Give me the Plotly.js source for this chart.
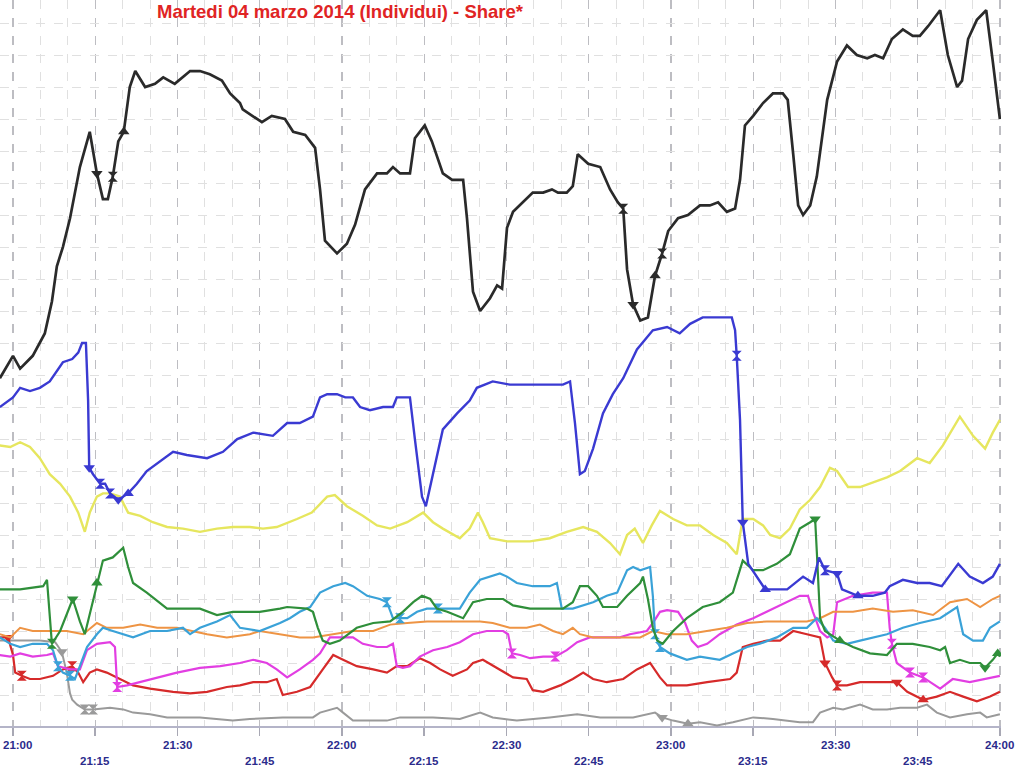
<!DOCTYPE html>
<html><head><meta charset="utf-8">
<script src="https://cdn.plot.ly/plotly-3.0.1.min.js"></script>
<style>html,body{margin:0;padding:0;background:#fff}#chart{width:1024px;height:776px}</style>
</head><body><div id="chart"></div>
<script>
const chartTitle = "Martedi 04 marzo 2014 (Individui) - Share*";
const tickMinutes = [0,15,30,45,60,75,90,105,120,135,150,165,180];
const tickLabels = ["21:00","21:15","21:30","21:45","22:00","22:15","22:30","22:45","23:00","23:15","23:30","23:45","24:00"];

// minutes after 21:00, share values
const blackT = [-2.4,0,1.3,3.6,5.8,7.1,8.0,9.1,10.4,12.2,14.0,15.3,16.4,17.3,18.2,19.2,20.2,21.3,22.3,24.1,25.9,27.4,29.5,32.3,34.1,35.9,38.1,39.6,41.4,41.9,45.4,47.2,49.6,51.1,53.3,55.1,56.0,56.9,59.1,60.9,62.4,64.2,66.4,68.2,69.3,70.6,72.4,73.3,75.1,76.4,78.4,80.1,82.1,82.8,83.9,85.2,87.0,88.3,89.2,90.1,91.2,93.0,94.8,96.7,98.3,99.4,101.0,102.1,103.0,104.9,107.1,108.9,110.3,111.3,112.0,113.1,114.4,115.8,117.1,118.4,119.5,121.3,123.1,125.3,127.1,128.6,130.2,131.7,132.6,133.5,135.0,136.8,138.6,140.4,141.3,142.3,143.2,144.1,145.4,146.6,148.5,150.3,152.1,153.9,155.8,157.2,158.7,160.3,162.3,164.1,165.4,166.9,169.1,170.5,172.2,173.1,174.2,175.8,177.5,178.7,180];
const blackV = [10.9,11.6,11.2,11.6,12.3,13.3,14.4,15.0,15.9,17.5,18.6,17.3,16.5,16.5,17.2,18.3,18.6,20.0,20.5,20.0,20.1,20.3,20.1,20.5,20.5,20.4,20.2,19.8,19.5,19.3,18.9,19.1,19.0,18.6,18.5,18.1,16.8,15.2,14.8,15.1,15.7,16.8,17.3,17.3,17.5,17.3,17.3,18.4,18.8,18.3,17.3,17.1,17.1,15.9,13.6,13.0,13.4,13.8,13.7,15.6,16.1,16.4,16.7,16.7,16.8,16.7,16.7,16.9,17.9,17.6,17.5,16.8,16.4,16.2,14.3,13.2,12.7,12.8,14.1,14.8,15.5,15.9,16.0,16.3,16.3,16.4,16.1,16.2,17.1,18.8,19.1,19.5,19.8,19.8,19.6,17.9,16.3,16.0,16.3,17.2,19.6,20.8,21.3,21.0,20.9,21.0,20.9,21.5,21.8,21.6,21.6,21.9,22.4,21.0,20.0,20.2,21.5,22.1,22.4,20.8,19.0];

const blueT = [-2.4,0,1.3,3.1,4.9,6.7,9.1,10.8,11.9,12.6,13.3,13.7,13.9,14.6,15.9,16.8,17.7,19.2,21.0,22.6,24.4,26.8,29.2,31.7,35.4,38.3,40.9,43.8,47.4,50.0,52.3,54.7,56.0,57.3,59.1,60.6,62.0,63.3,65.1,67.5,69.3,70.0,72.4,73.3,74.6,75.3,76.6,78.4,81.0,83.3,84.6,87.5,90.6,96.1,100.3,101.6,102.5,103.4,104.3,105.8,107.6,109.4,111.3,113.8,116.7,119.3,121.6,123.5,125.8,128.9,131.1,131.7,132.0,132.6,133.1,134.1,135.7,137.2,139.3,141.2,144.1,145.9,147.0,148.1,150.3,151.2,154.1,156.8,159.0,159.9,162.3,164.9,167.2,169.4,172.4,174.5,176.9,178.7,180];
const blueV = [10.0,10.3,10.6,10.5,10.6,10.8,11.4,11.5,11.7,12.0,12.0,10.2,8.1,7.9,7.6,7.6,7.3,7.1,7.3,7.6,8.0,8.3,8.6,8.5,8.4,8.6,9.0,9.2,9.1,9.5,9.5,9.7,10.3,10.4,10.4,10.3,10.3,10.0,9.9,10.0,10.0,10.3,10.3,9.0,7.2,6.9,7.9,9.3,9.8,10.2,10.6,10.8,10.7,10.7,10.7,10.8,9.5,7.9,8.0,8.7,9.8,10.4,10.9,11.8,12.4,12.5,12.3,12.6,12.8,12.8,12.8,12.4,11.6,9.6,6.4,5.1,4.7,4.3,4.3,4.3,4.7,4.5,5.3,4.9,4.8,4.3,4.1,4.1,4.2,4.4,4.6,4.5,4.5,4.4,5.1,4.7,4.5,4.7,5.1];

const yellowT = [-2.4,-0.5,1.3,3.1,4.9,6.7,8.6,10.4,11.9,13.1,14.0,15.3,16.4,17.7,19.5,21.0,23.2,25.5,28.1,31.0,34.1,37.2,40.1,43.2,45.6,48.1,51.8,54.5,57.3,58.7,60.9,63.8,66.4,68.8,71.9,74.8,76.6,78.4,81.5,83.3,84.8,85.7,87.0,90.1,94.3,97.9,101.0,104.0,106.5,108.9,110.7,112.0,113.4,114.9,116.5,118.0,120.4,122.9,125.3,127.7,130.2,132.0,133.1,135.0,136.8,138.1,139.9,141.7,143.5,145.4,147.2,149.0,150.3,152.3,154.5,156.8,159.4,161.8,164.9,167.2,169.6,172.7,175.1,177.3,178.7,180];
const yellowV = [8.8,8.75,8.9,8.75,8.4,7.9,7.6,7.2,6.7,6.1,6.7,7.2,7.3,7.3,7.2,6.7,6.6,6.4,6.25,6.2,6.1,6.2,6.25,6.25,6.2,6.25,6.5,6.7,7.2,7.25,6.9,6.6,6.3,6.2,6.4,6.7,6.4,6.2,5.9,6.2,6.7,6.4,5.9,5.8,5.8,5.9,6.1,6.25,6.1,5.75,5.4,6.0,6.2,5.75,6.3,6.75,6.5,6.3,6.3,6.0,5.75,5.4,6.5,6.5,6.3,6.0,5.9,6.2,6.8,7.1,7.5,8.1,8.0,7.5,7.5,7.65,7.8,8.0,8.4,8.25,8.8,9.7,9.1,8.7,9.2,9.6];

const greenT = [-2.4,1.3,5.5,6.2,7.1,8.6,10.9,12.2,13.1,15.3,16.4,18.2,20.1,21.0,21.9,24.4,28.1,30.5,34.1,37.2,40.1,43.2,45.0,48.7,50.0,53.6,54.7,55.6,56.5,57.8,59.6,62.7,65.7,68.8,71.1,73.0,74.6,76.1,77.3,79.2,82.1,83.9,86.4,89.4,91.2,94.3,97.9,100.3,102.1,103.4,104.9,106.5,107.6,110.2,112.0,114.4,114.9,115.8,116.7,117.5,118.5,120.4,122.9,125.8,128.9,131.3,133.1,135.0,136.8,139.3,141.7,143.5,145.4,146.3,146.6,147.2,148.1,150.8,153.2,156.3,159.4,161.2,164.1,167.2,169.1,170.0,170.9,172.7,174.5,176.4,177.3,178.7,179.6,180];
const greenV = [4.3,4.3,4.4,4.6,2.6,3.0,4.0,3.3,2.9,4.5,5.2,5.3,5.6,5.0,4.5,4.2,3.7,3.7,3.7,3.5,3.6,3.6,3.6,3.7,3.75,3.7,3.6,3.1,2.7,2.6,2.7,3.1,3.25,3.3,3.6,3.9,4.1,4.0,3.7,3.6,3.4,3.9,4.0,4.0,3.8,3.7,3.7,3.7,3.9,4.4,4.4,4.1,3.75,3.75,4.1,4.5,4.7,4.0,3.1,2.7,2.6,3.0,3.4,3.75,3.9,4.2,5.2,4.9,4.9,5.1,5.4,6.2,6.4,6.5,5.5,3.4,3.0,2.7,2.5,2.3,2.25,2.6,2.6,2.5,2.4,2.5,2.0,2.1,2.0,2.0,1.85,2.1,2.3,2.2];

const cyanT = [-2.4,-0.5,1.3,3.6,6.2,7.3,8.2,9.1,10.4,11.3,12.2,13.5,15.3,16.4,18.2,20.1,21.9,25.0,28.1,31.0,32.3,34.1,37.2,39.6,41.4,45.0,48.7,50.5,52.3,54.2,56.0,58.4,60.6,62.0,64.6,66.9,68.2,69.3,70.6,71.9,73.7,75.5,77.5,79.7,81.5,83.3,85.2,88.8,90.1,91.9,94.8,97.9,99.2,100.1,102.1,105.8,108.3,110.2,112.0,113.1,114.4,116.2,116.7,117.1,118.0,119.8,122.9,125.3,128.9,131.3,133.9,136.2,139.3,142.3,144.8,146.6,148.1,149.6,152.1,154.5,156.8,159.4,162.3,165.4,169.1,172.2,173.3,175.1,176.9,178.2,180];
const cyanV = [2.8,2.6,2.5,2.6,2.6,2.4,1.9,1.7,1.6,1.5,1.9,2.5,2.9,3.1,3.0,2.9,2.8,3.0,3.0,3.1,2.9,3.1,3.3,3.5,3.1,3.0,3.25,3.4,3.6,3.75,4.2,4.4,4.5,4.4,4.1,4.0,3.9,3.4,3.4,3.4,3.6,3.7,3.7,3.7,3.7,4.2,4.6,4.8,4.7,4.5,4.4,4.4,4.5,3.7,3.7,3.9,4.1,4.2,4.9,5.0,4.9,5.0,4.1,2.9,2.5,2.3,2.1,2.2,2.1,2.3,2.5,2.6,2.8,3.1,3.1,3.4,3.1,2.7,2.6,2.7,2.8,2.9,3.1,3.25,3.4,3.75,2.9,2.7,2.7,3.1,3.3];

const orangeT = [-2.4,-0.5,1.3,3.6,6.7,9.8,12.8,15.3,17.1,20.1,23.2,26.3,29.9,32.8,35.4,39.0,43.2,45.0,48.7,52.3,54.7,58.4,62.0,65.7,68.8,71.9,75.5,79.2,82.8,85.2,87.5,90.6,93.7,96.1,98.5,100.3,102.1,103.4,105.8,108.3,111.3,114.4,116.7,119.3,122.9,126.6,130.2,133.9,137.5,141.2,144.8,147.2,149.6,153.2,156.8,160.5,164.1,167.8,170.9,174.0,176.4,178.7,180];
const orangeV = [2.9,2.8,3.1,3.0,3.0,3.0,2.9,3.25,3.1,3.1,3.2,3.1,3.1,3.0,2.9,2.8,2.9,3.0,2.9,2.8,2.8,2.9,3.0,3.0,3.2,3.25,3.3,3.3,3.3,3.3,3.25,3.1,3.1,3.2,3.0,2.9,3.1,2.9,2.8,2.8,2.8,2.8,3.0,2.9,2.9,3.0,3.1,3.25,3.3,3.3,3.3,3.4,3.6,3.6,3.7,3.6,3.65,3.5,3.9,4.0,3.75,4.0,4.1];

const magentaT = [-2.4,-0.5,1.3,3.6,6.2,7.3,8.2,10.4,12.2,13.5,15.3,17.7,18.6,19.0,20.8,23.2,26.3,29.9,34.1,37.8,41.4,43.8,46.3,48.1,50.0,52.3,54.7,56.0,57.8,59.6,62.0,63.8,66.4,68.2,69.3,70.0,71.1,72.4,74.2,76.6,79.2,81.5,83.9,86.4,89.4,90.3,91.0,92.5,94.3,96.7,98.9,101.0,102.9,105.2,108.3,110.7,112.5,115.6,116.7,118.0,119.3,121.3,122.6,123.8,124.9,126.6,128.9,132.0,135.0,138.1,141.2,143.5,145.0,145.9,147.2,148.5,149.6,150.3,153.2,156.8,159.4,159.9,160.3,161.2,163.6,166.0,169.1,171.4,174.5,177.6,180];
const magentaV = [2.25,2.2,2.3,2.2,2.25,2.3,1.9,1.8,1.8,2.4,2.6,2.65,2.5,1.25,1.3,1.4,1.55,1.7,1.85,1.9,2.0,2.1,2.0,1.8,1.55,1.8,2.1,2.3,2.8,2.8,2.8,2.6,2.5,2.5,2.6,1.9,1.85,1.9,2.2,2.4,2.5,2.65,2.9,3.0,3.0,2.9,2.3,2.25,2.15,2.2,2.2,2.4,2.65,2.8,2.8,2.8,2.9,3.0,3.25,3.6,3.65,3.6,3.25,2.7,2.5,2.6,2.9,3.2,3.4,3.65,3.9,4.1,4.1,3.6,3.0,2.8,2.9,3.9,4.1,4.2,4.2,3.1,2.6,2.0,1.7,1.55,1.2,1.5,1.4,1.5,1.6];

const redT = [-2.4,-0.9,0,0.4,1.6,3.1,4.9,7.3,9.1,10.8,11.9,12.8,14.0,15.3,17.1,19.5,21.9,25.0,29.2,32.3,35.4,39.0,41.4,43.8,46.3,48.1,49.2,51.8,54.2,56.5,58.4,60.2,62.7,65.7,68.2,70.0,71.9,74.2,76.1,77.9,80.2,82.8,83.9,85.7,88.8,91.2,93.7,94.8,96.7,99.8,102.1,104.0,105.8,108.3,111.3,113.8,116.2,118.0,119.3,122.9,126.6,130.8,132.0,133.1,135.0,137.5,139.9,142.3,144.8,147.2,148.1,149.4,150.3,152.1,154.5,157.6,161.2,163.1,166.0,168.5,170.9,173.3,175.8,178.2,180];
const redV = [2.8,2.8,2.25,1.7,1.6,1.5,1.5,1.6,1.8,1.9,1.7,1.4,1.7,1.8,1.7,1.5,1.3,1.2,1.1,1.05,1.1,1.25,1.3,1.4,1.4,1.5,1.0,1.1,1.25,1.8,2.25,2.1,1.9,1.8,1.7,1.9,1.9,2.15,2.0,1.8,1.6,1.8,2.0,2.1,1.8,1.55,1.5,1.15,1.1,1.3,1.5,1.7,1.5,1.4,1.5,1.8,2.0,1.55,1.3,1.3,1.4,1.5,1.7,2.5,2.6,2.7,2.7,3.0,2.9,2.8,2.0,1.55,1.3,1.3,1.4,1.4,1.4,1.1,0.85,0.95,1.1,0.95,0.8,0.95,1.1];

const grayT = [-2.4,4.9,7.7,8.9,9.8,10.4,10.8,11.7,13.1,14.6,17.7,20.1,21.9,25.0,28.1,34.1,40.1,43.2,49.2,54.7,56.0,57.8,59.1,60.2,62.0,64.6,68.2,70.6,73.7,76.6,81.5,85.2,87.5,90.1,91.9,97.9,102.9,107.1,113.1,117.1,118.4,120.4,123.1,125.3,128.4,131.3,135.0,138.6,143.5,145.9,147.2,149.6,151.4,154.5,156.8,159.4,161.8,164.9,166.7,168.5,170.9,174.0,176.4,177.6,180];
const grayV = [2.7,2.7,2.65,2.35,1.7,1.05,0.85,0.7,0.55,0.55,0.6,0.55,0.45,0.4,0.3,0.3,0.2,0.25,0.3,0.3,0.45,0.55,0.6,0.45,0.2,0.2,0.2,0.3,0.3,0.3,0.25,0.45,0.3,0.25,0.2,0.3,0.4,0.3,0.3,0.45,0.3,0.2,0.1,0.15,0.05,0.15,0.3,0.25,0.15,0.15,0.45,0.6,0.55,0.7,0.55,0.55,0.6,0.6,0.7,0.45,0.3,0.4,0.45,0.3,0.4];

// event markers: time, value, symbol
const blackMarkT = [15.3,18.2,20.2,111.3,113.1,117.1,118.4];
const blackMarkV = [17.3,17.2,18.6,16.2,13.2,14.1,14.8];
const blackMarkS = ["triangle-down","hourglass","triangle-up","hourglass","triangle-down","triangle-up","hourglass"];
const blueMarkT = [13.9,15.9,17.7,19.2,21.0,132.0,133.1,137.2,148.1,150.3,154.1];
const blueMarkV = [8.1,7.6,7.3,7.1,7.3,11.6,6.4,4.3,4.9,4.8,4.1];
const blueMarkS = ["triangle-down","hourglass","hourglass","triangle-down","triangle-up","hourglass","triangle-down","triangle-up","hourglass","triangle-down","triangle-up"];
const greenMarkT = [7.1,10.9,15.3,146.3,150.8,177.3,179.6];
const greenMarkV = [2.6,4.0,4.5,6.5,2.7,1.85,2.3];
const greenMarkS = ["hourglass","triangle-down","triangle-up","triangle-down","triangle-up","triangle-down","triangle-up"];
const cyanMarkT = [8.2,10.4,68.2,70.6,77.5,117.1,118.0];
const cyanMarkV = [1.9,1.6,3.9,3.4,3.7,2.9,2.5];
const cyanMarkS = ["hourglass","hourglass","hourglass","hourglass","hourglass","hourglass","hourglass"];
const magentaMarkT = [19.0,91.0,98.9,160.3,163.6,166.0];
const magentaMarkV = [1.25,2.3,2.2,2.6,1.7,1.55];
const magentaMarkS = ["hourglass","hourglass","hourglass","hourglass","hourglass","hourglass"];
const redMarkT = [-0.9,1.6,10.8,148.1,150.3,161.2,166.0];
const redMarkV = [2.8,1.6,1.9,2.0,1.3,1.4,0.85];
const redMarkS = ["triangle-down","hourglass","hourglass","triangle-down","hourglass","triangle-down","triangle-up"];
const grayMarkT = [8.9,13.1,14.6,118.4,123.1];
const grayMarkV = [2.35,0.55,0.55,0.3,0.1];
const grayMarkS = ["triangle-down","hourglass","hourglass","triangle-down","triangle-up"];

const series = [
  {t: grayT, v: grayV, mt: grayMarkT, mv: grayMarkV, ms: grayMarkS, color: "#9a9a9a", w: 2},
  {t: redT, v: redV, mt: redMarkT, mv: redMarkV, ms: redMarkS, color: "#d62a2a", w: 2.2},
  {t: magentaT, v: magentaV, mt: magentaMarkT, mv: magentaMarkV, ms: magentaMarkS, color: "#e23ee2", w: 2.2},
  {t: orangeT, v: orangeV, mt: [], mv: [], ms: [], color: "#ee9444", w: 2},
  {t: cyanT, v: cyanV, mt: cyanMarkT, mv: cyanMarkV, ms: cyanMarkS, color: "#3aa2d8", w: 2.2},
  {t: greenT, v: greenV, mt: greenMarkT, mv: greenMarkV, ms: greenMarkS, color: "#2f8f3a", w: 2.2},
  {t: yellowT, v: yellowV, mt: [], mv: [], ms: [], color: "#e6e65e", w: 2.4},
  {t: blueT, v: blueV, mt: blueMarkT, mv: blueMarkV, ms: blueMarkS, color: "#3a3ad2", w: 2.4},
  {t: blackT, v: blackV, mt: blackMarkT, mv: blackMarkV, ms: blackMarkS, color: "#2a2a2a", w: 2.7}
];

const traces = [];
series.forEach(s => {
  traces.push({x: s.t, y: s.v, type: "scatter", mode: "lines",
    line: {color: s.color, width: s.w, shape: "linear"}, hoverinfo: "skip", showlegend: false});
  if (s.mt.length) {
    traces.push({x: s.mt, y: s.mv, type: "scatter", mode: "markers",
      marker: {color: s.color, size: 10, symbol: s.ms, line: {width: 0}}, hoverinfo: "skip", showlegend: false});
  }
});

const annotations = tickMinutes.map((m, i) => {
  const a = {
    x: m, y: 0, xref: "x", yref: "paper", text: "<b>" + tickLabels[i] + "</b>", showarrow: false,
    xanchor: "center", yanchor: "top", yshift: (i % 2 === 0) ? -10 : -26,
    font: {family: "Liberation Sans, Arial, sans-serif", size: 11.5, color: "#2b2b8c"}
  };
  if (i === 0) { a.xref = "paper"; a.x = 0; a.xanchor = "left"; a.xshift = 1; }
  return a;
});

const layout = {
  width: 1024, height: 776,
  margin: {l: 0, r: 23, t: 0, b: 49},
  paper_bgcolor: "#ffffff", plot_bgcolor: "#ffffff",
  title: {text: "<b>" + chartTitle + "</b>", x: 340/1024, xanchor: "center", xref: "container",
    y: 1 - 12/776, yanchor: "middle",
    font: {family: "Liberation Sans, Arial, sans-serif", size: 18.5, color: "#e02424"}},
  xaxis: {range: [-2.37, 180.2], tickmode: "array", tickvals: tickMinutes, ticktext: tickMinutes.map(() => ""),
    showgrid: true, gridcolor: "#bdbdc2", griddash: "dash", gridwidth: 1.2,
    minor: {dtick: 5, tick0: 0, showgrid: true, gridcolor: "#e0e0e0", griddash: "dash", gridwidth: 1},
    showline: false, zeroline: false, ticks: "outside", ticklen: 8, tickcolor: "#a8a8b4", tickwidth: 1.5,
    fixedrange: true},
  yaxis: {range: [0, 22.72], dtick: 1, tick0: 0, showticklabels: false, ticks: "",
    showgrid: true, gridcolor: "#e0e0e0", griddash: "dash", gridwidth: 1,
    zeroline: true, zerolinecolor: "#b4b4c8", zerolinewidth: 2.5, showline: false, fixedrange: true},
  annotations: annotations
};

Plotly.newPlot("chart", traces, layout, {staticPlot: true, displayModeBar: false});
</script>
</body></html>
